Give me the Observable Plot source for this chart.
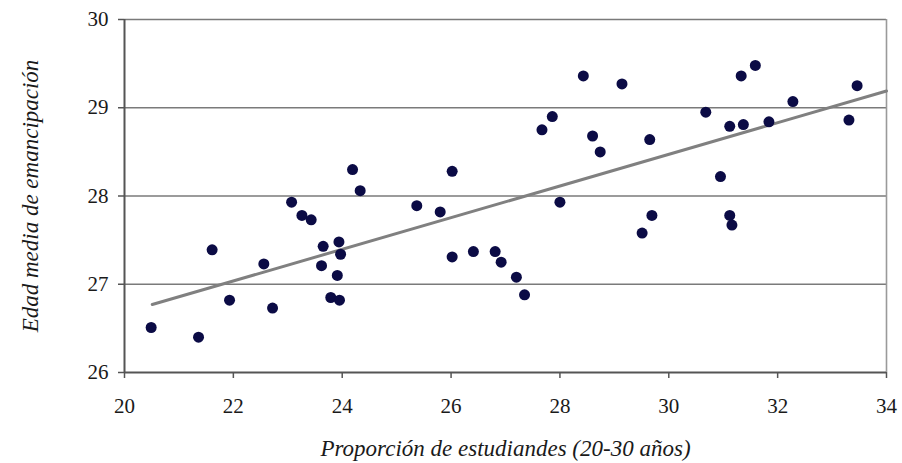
<!DOCTYPE html>
<html>
<head>
<meta charset="utf-8">
<script src="https://cdn.jsdelivr.net/npm/d3@7"></script>
<script src="https://cdn.jsdelivr.net/npm/@observablehq/plot@0.6"></script>
<style>
  html, body { margin: 0; padding: 0; background: #fff; }
  #chart { width: 902px; height: 463px; }
</style>
</head>
<body>
<div id="chart"></div>
<script>
// Proporción de estudiandes (20-30 años)
const proporcion = [
  20.49, 21.36, 21.61, 21.93, 22.56, 22.72, 23.07, 23.26, 23.43, 23.65,
  23.62, 23.79, 23.95, 23.94, 23.97, 23.91, 24.19, 24.33, 25.37, 25.80,
  26.02, 26.02, 26.41, 26.81, 26.92, 27.20, 27.35, 27.67, 27.86, 28.00,
  28.43, 28.60, 28.74, 29.14, 29.51, 29.65, 29.69, 30.68, 30.95, 31.12,
  31.16, 31.12, 31.37, 31.33, 31.59, 31.84, 32.28, 33.31, 33.46
];
// Edad media de emancipación
const edad = [
  26.51, 26.40, 27.39, 26.82, 27.23, 26.73, 27.93, 27.78, 27.73, 27.43,
  27.21, 26.85, 26.82, 27.48, 27.34, 27.10, 28.30, 28.06, 27.89, 27.82,
  28.28, 27.31, 27.37, 27.37, 27.25, 27.08, 26.88, 28.75, 28.90, 27.93,
  29.36, 28.68, 28.50, 29.27, 27.58, 28.64, 27.78, 28.95, 28.22, 27.78,
  27.67, 28.79, 28.81, 29.36, 29.48, 28.84, 29.07, 28.86, 29.25
];
// Trend line endpoints
const trendX = [20.51, 34];
const trendY = [26.77, 29.19];

const xTicks = [20, 22, 24, 26, 28, 30, 32, 34];
const yTicks = [26, 27, 28, 29, 30];
const xLabel = "Proporción de estudiandes (20-30 años)";
const yLabel = "Edad media de emancipación";

const FONT = "Liberation Serif";

const points = proporcion.map((x, i) => ({x, y: edad[i]}));
const trend = trendX.map((x, i) => ({x, y: trendY[i]}));

const chart = Plot.plot({
  width: 902,
  height: 463,
  marginLeft: 124,
  marginRight: 16,
  marginTop: 19,
  marginBottom: 91,
  style: {background: "#fff", color: "#1a1a1a"},
  x: {domain: [20, 34]},
  y: {domain: [26, 30]},
  marks: [
    Plot.ruleY(yTicks.slice(1), {stroke: "#7a7a7a", strokeWidth: 1.6}),
    Plot.ruleX([34], {stroke: "#9a9a9a", strokeWidth: 1.6}),
    Plot.ruleX([20], {stroke: "#555", strokeWidth: 2}),
    Plot.ruleY([26], {stroke: "#555", strokeWidth: 2}),
    Plot.axisX({ticks: xTicks, tickSize: 6, tickPadding: 20, stroke: "#555", strokeWidth: 1.5, label: null, tickFormat: d => d, fontFamily: FONT, fontSize: 21, fill: "#1a1a1a"}),
    Plot.axisY({ticks: yTicks, tickSize: 6, tickPadding: 10, stroke: "#555", strokeWidth: 1.5, label: null, tickFormat: d => d, fontFamily: FONT, fontSize: 21, fill: "#1a1a1a"}),
    Plot.line(trend, {x: "x", y: "y", stroke: "#808080", strokeWidth: 3}),
    Plot.dot(points, {x: "x", y: "y", r: 5.5, fill: "#0b0b45", stroke: "none"}),
    Plot.text([xLabel], {frameAnchor: "bottom", dy: 76, textAnchor: "middle", lineAnchor: "middle", text: d => d, fontFamily: FONT, fontStyle: "italic", fontSize: 23, fill: "#1a1a1a"}),
    Plot.text([yLabel], {frameAnchor: "left", dx: -94, textAnchor: "middle", lineAnchor: "middle", rotate: -90, text: d => d, fontFamily: FONT, fontStyle: "italic", fontSize: 23, fill: "#1a1a1a"})
  ]
});
d3.select(chart).attr("font-family", FONT).selectAll("text").attr("font-family", FONT);
document.getElementById("chart").appendChild(chart);
</script>
</body>
</html>
